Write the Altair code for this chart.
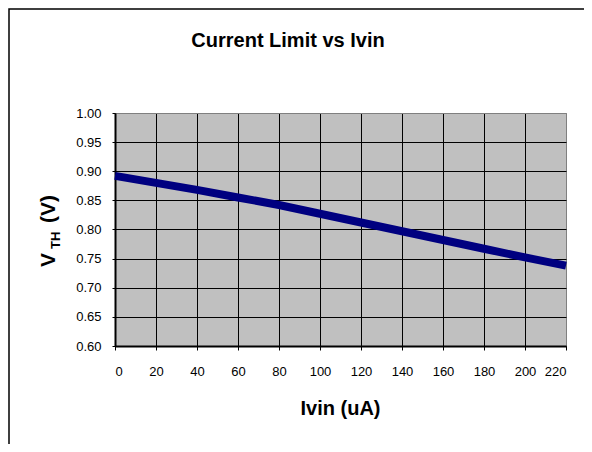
import altair as alt
import pandas as pd

ivin = [0, 20, 40, 60, 80, 100, 120, 140, 160, 180, 200, 220]
vth = [0.892, 0.880, 0.868, 0.855, 0.842, 0.827, 0.812, 0.797, 0.782, 0.767, 0.752, 0.738]
x_ticks = [0, 20, 40, 60, 80, 100, 120, 140, 160, 180, 200, 220]
y_ticks = [0.60, 0.65, 0.70, 0.75, 0.80, 0.85, 0.90, 0.95, 1.00]

title_text = "Current Limit vs Ivin"
x_title = "Ivin (uA)"
y_title_main = "V"
y_title_sub = "TH"
y_title_unit = "(V)"

FONT = "Liberation Sans"
W, H = 451, 233

df = pd.DataFrame({"ivin": ivin, "vth": vth})

xscale = alt.Scale(domain=[0, 220], nice=False, zero=False)
yscale = alt.Scale(domain=[0.6, 1.0], nice=False, zero=False)

line = alt.Chart(df).mark_line(color="#000080", strokeWidth=8).encode(
    x=alt.X("ivin:Q", scale=xscale,
            axis=alt.Axis(values=x_ticks, title=None, grid=True,
                          gridColor={"condition": {"test": "datum.value === 220", "value": "#808080"}, "value": "black"},
                          gridWidth=1, domainColor="black", domainWidth=2,
                          tickColor="black", tickSize=4, labelPadding=15,
                          labelFont=FONT, labelFontSize=13, labelColor="black")),
    y=alt.Y("vth:Q", scale=yscale,
            axis=alt.Axis(values=y_ticks, format=".2f", title=None, grid=True,
                          gridColor={"condition": {"test": "datum.value === 1", "value": "#808080"}, "value": "black"},
                          gridWidth=1, domainColor="black", domainWidth=2,
                          tickColor="black", tickSize=3, labelPadding=11,
                          labelFont=FONT, labelFontSize=13, labelColor="black")),
)

def txt(s, x, y, size, align="center", angle=0):
    return alt.Chart(pd.DataFrame({"t": [s]})).mark_text(
        font=FONT, fontSize=size, fontWeight="bold", color="black",
        align=align, baseline="alphabetic", angle=angle
    ).encode(text="t:N", x=alt.value(x), y=alt.value(y))

frame = alt.Chart(pd.DataFrame({"a": [0]})).mark_rect(
    fill=None, stroke="black", strokeWidth=1.5
).encode(x=alt.value(-106), y=alt.value(-104), x2=alt.value(700), y2=alt.value(700))

chart = alt.layer(
    frame,
    line,
    txt(title_text, 173, -66, 20),
    txt(x_title, 225.5, 302, 20),
    txt(y_title_main, -60, 154, 21, align="left", angle=270),
    txt(y_title_sub, -55, 136, 13, align="left", angle=270),
    txt(y_title_unit, -60, 110, 21, align="left", angle=270),
).properties(
    width=W, height=H,
    padding={"left": 107, "top": 105, "right": 18, "bottom": 98},
    autosize=alt.AutoSizeParams(type="none"),
    background="white",
).configure_view(fill="#c0c0c0", stroke="#808080", strokeWidth=1)

chart.save("out.html", embed_options={"renderer": "svg", "actions": False})
